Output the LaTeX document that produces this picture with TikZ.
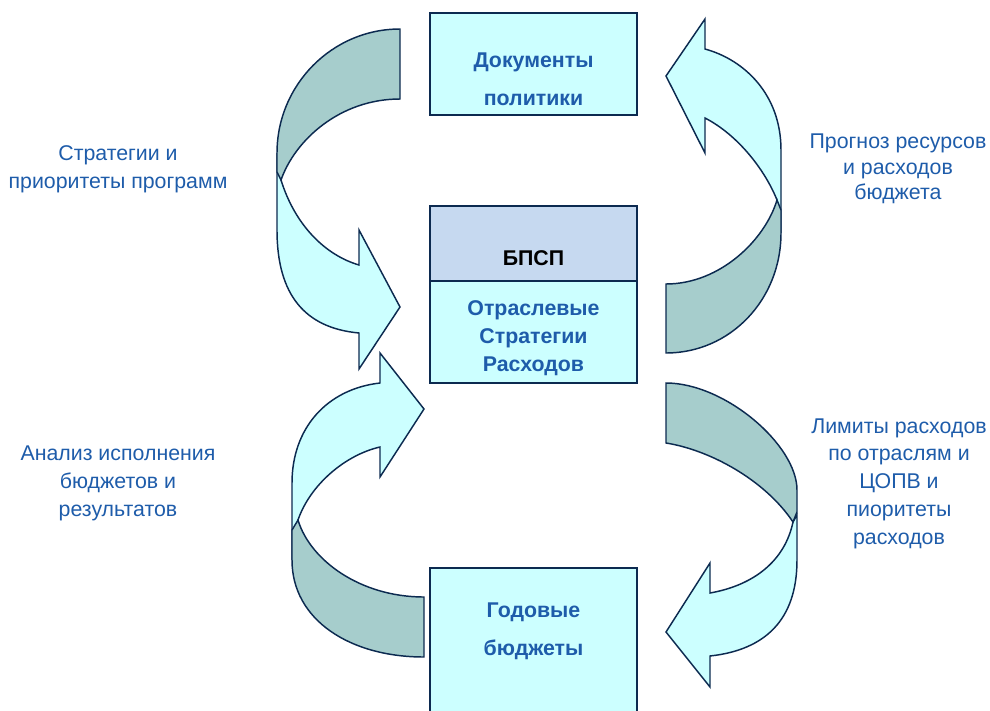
\documentclass[tikz,border=0pt]{standalone}
\usepackage{fontspec}
\setmainfont{Liberation Sans}
\definecolor{boxfill}{RGB}{204,255,255}
\definecolor{headfill}{RGB}{198,217,240}
\definecolor{backfill}{RGB}{166,205,204}
\definecolor{edge}{RGB}{12,42,80}
\definecolor{txt}{RGB}{30,92,170}
\begin{document}
\begin{tikzpicture}[x=0.75pt,y=-0.75pt,
  box/.style={draw=edge,line width=1.5pt,fill=boxfill,inner sep=0pt,minimum width=155.25pt},
  front/.style={draw=edge,line width=1.1pt,fill=boxfill,line join=miter},
  back/.style={draw=edge,line width=1.1pt,fill=backfill,line join=miter},
  lbl/.style={text=txt,align=center,inner sep=0pt},
  boxtext/.style={text=txt,align=center,inner sep=0pt,font=\bfseries\fontsize{16}{28.5}\selectfont}]
\useasboundingbox (0,0) rectangle (990,711);
\clip (0,0) rectangle (990,711);

% boxes
\node[box,minimum height=76.5pt] (docs) at (533.5,64) {};
\node[box,fill=headfill,minimum height=56.25pt] (bpsp) at (533.5,243.5) {};
\node[box,minimum height=76.5pt] (osr) at (533.5,332) {};
\node[box,minimum height=121.5pt] (annual) at (533.5,649) {};

\node[boxtext] (docstext) at (533.5,79) {Документы\\политики};
\node[boxtext,text=black] (bpsptext) at (533.5,258) {БПСП};
\node[boxtext,font=\bfseries\fontsize{16}{21}\selectfont] (osrtext) at (533.5,338) {Отраслевые\\Стратегии\\Расходов};
\node[boxtext] (annualtext) at (533.5,631) {Годовые\\бюджеты};

% top-left curved arrow: documents -> sector strategies
\draw[front] (277,153) -- (277,230) .. controls (277,295) and (305,328) .. (359,333)
  -- (359,369) -- (400,307) -- (359,230) -- (359,265)
  .. controls (325,255) and (295,225) .. (281,180) -- cycle;
\draw[back] (400,29) .. controls (332,29) and (277,85) .. (277,153) -- (277,172) -- (281,180)
  .. controls (295,140) and (340,99) .. (400,99) -- cycle;

% top-right curved arrow: sector strategies -> documents
\draw[front] (781,233) -- (781,150) .. controls (781,95) and (745,60) .. (705,49)
  -- (705,19) -- (666,76) -- (705,153) -- (705,118)
  .. controls (738,135) and (765,170) .. (777,200) -- cycle;
\draw[back] (666,353) .. controls (730,353) and (781,300) .. (781,233) -- (781,210) -- (777,200)
  .. controls (765,240) and (720,284) .. (666,284) -- cycle;

% bottom-left curved arrow: annual budgets -> sector strategies
\draw[front] (292,560) -- (292,483) .. controls (292,428) and (327,389) .. (380,383)
  -- (380,353) -- (424,409) -- (380,477) -- (380,447)
  .. controls (345,455) and (310,485) .. (298,520) -- cycle;
\draw[back] (424,657) .. controls (350,657) and (292,620) .. (292,560) -- (292,530) -- (298,520)
  .. controls (310,560) and (360,597) .. (424,597) -- cycle;

% bottom-right curved arrow: sector strategies -> annual budgets
\draw[front] (793,522) .. controls (785,560) and (755,585) .. (710,593)
  -- (710,563) -- (666,632) -- (710,687) -- (710,656)
  .. controls (765,650) and (797,620) .. (797,560) -- (797,515) -- cycle;
\draw[back] (666,383) .. controls (725,383) and (797,445) .. (797,490) -- (797,512) -- (793,522)
  .. controls (765,480) and (710,450) .. (666,443) -- cycle;

% labels
\node[lbl,font=\fontsize{16}{21}\selectfont] (l1) at (118,169) {Стратегии и\\приоритеты программ};
\node[lbl,font=\fontsize{16}{19.1}\selectfont] (l2) at (898,169) {Прогноз ресурсов\\и расходов\\бюджета};
\node[lbl,font=\fontsize{16}{21}\selectfont] (l3) at (118,483) {Анализ исполнения\\бюджетов и\\результатов};
\node[lbl,font=\fontsize{16}{20.8}\selectfont] (l4) at (899,483.5) {Лимиты расходов\\по отраслям и\\ЦОПВ и\\пиоритеты\\расходов};
\end{tikzpicture}
\end{document}
